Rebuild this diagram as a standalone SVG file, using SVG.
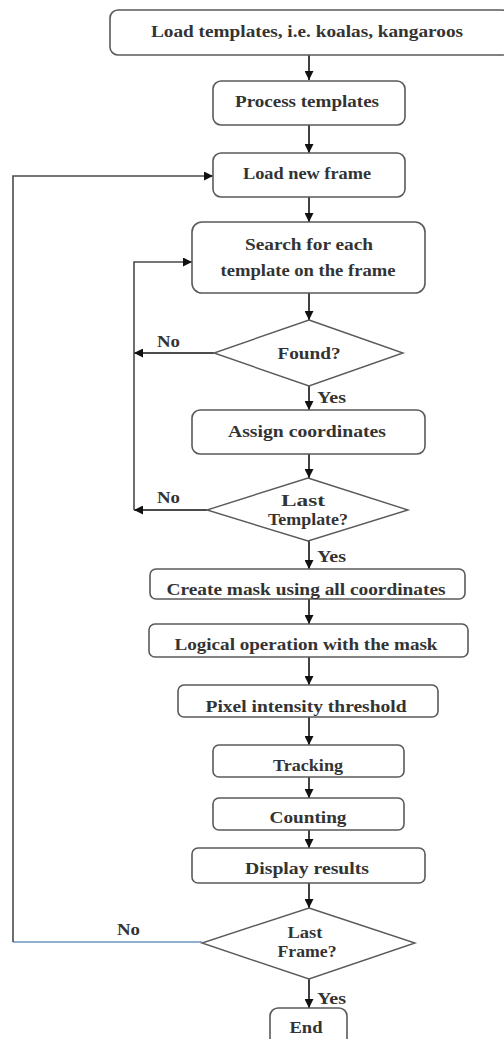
<svg xmlns="http://www.w3.org/2000/svg" width="504" height="1039" viewBox="0 0 504 1039">
<defs>
<marker id="ah" viewBox="0 0 10 10" refX="10" refY="5" markerWidth="9" markerHeight="9" markerUnits="userSpaceOnUse" orient="auto">
<path d="M0,0 L10,5 L0,10 z" fill="#111"/>
</marker>
<style>
.box{fill:#fff;stroke:#5a5a5a;stroke-width:1.6}
.dia{fill:#fff;stroke:#5a5a5a;stroke-width:1.4}
.t{font-family:"Liberation Serif","Times New Roman",serif;font-size:16px;font-weight:bold;fill:#333;text-anchor:middle}
.l{font-family:"Liberation Serif","Times New Roman",serif;font-size:16px;font-weight:bold;fill:#333}
.c{fill:none;stroke:#111;stroke-width:1.6}
.g{fill:none;stroke:#4a4a4a;stroke-width:1.6}
</style>
</defs>
<rect width="504" height="1039" fill="#fff"/>
<g id="connectors">
<line class="c" x1="309" y1="55" x2="309" y2="80" marker-end="url(#ah)"/>
<line class="c" x1="309" y1="125" x2="309" y2="153" marker-end="url(#ah)"/>
<line class="c" x1="309" y1="197" x2="309" y2="222" marker-end="url(#ah)"/>
<line class="c" x1="309" y1="293" x2="309" y2="320" marker-end="url(#ah)"/>
<line class="c" x1="309" y1="386" x2="309" y2="410" marker-end="url(#ah)"/>
<line class="c" x1="309" y1="454" x2="309" y2="478" marker-end="url(#ah)"/>
<line class="c" x1="309" y1="541" x2="309" y2="569" marker-end="url(#ah)"/>
<line class="c" x1="309" y1="599" x2="309" y2="624" marker-end="url(#ah)"/>
<line class="c" x1="309" y1="657" x2="309" y2="685" marker-end="url(#ah)"/>
<line class="c" x1="309" y1="717" x2="309" y2="745" marker-end="url(#ah)"/>
<line class="c" x1="309" y1="777" x2="309" y2="798" marker-end="url(#ah)"/>
<line class="c" x1="309" y1="830" x2="309" y2="848" marker-end="url(#ah)"/>
<line class="c" x1="309" y1="883" x2="309" y2="908" marker-end="url(#ah)"/>
<line class="c" x1="309" y1="979" x2="309" y2="1008" marker-end="url(#ah)"/>
<line class="c" x1="214" y1="353" x2="134" y2="353" marker-end="url(#ah)"/>
<line class="c" x1="207" y1="510" x2="134" y2="510" marker-end="url(#ah)"/>
<polyline class="g" points="134,510 134,262 192,262" marker-end="url(#ah)"/>
<line x1="202" y1="942" x2="13" y2="942" stroke="#6b93bd" stroke-width="1.4"/>
<polyline class="g" points="13,942 13,176 213,176" marker-end="url(#ah)"/>
<text class="l" x="157" y="347" textLength="23" lengthAdjust="spacingAndGlyphs">No</text>
<text class="l" x="157" y="503" textLength="23" lengthAdjust="spacingAndGlyphs">No</text>
<text class="l" x="117" y="935" textLength="23" lengthAdjust="spacingAndGlyphs">No</text>
<text class="l" x="317" y="403" textLength="29" lengthAdjust="spacingAndGlyphs">Yes</text>
<text class="l" x="317" y="562" textLength="29" lengthAdjust="spacingAndGlyphs">Yes</text>
<text class="l" x="317" y="1004" textLength="29" lengthAdjust="spacingAndGlyphs">Yes</text>
</g>
<g id="n1"><rect class="box" x="110" y="10" width="400" height="45" rx="8"/><text class="t" x="307" y="37" textLength="312" lengthAdjust="spacingAndGlyphs">Load templates, i.e. koalas, kangaroos</text></g>
<g id="n2"><rect class="box" x="213" y="81" width="192" height="44" rx="8"/><text class="t" x="307" y="107" textLength="144" lengthAdjust="spacingAndGlyphs">Process templates</text></g>
<g id="n3"><rect class="box" x="213" y="153" width="192" height="44" rx="8"/><text class="t" x="307" y="179" textLength="128" lengthAdjust="spacingAndGlyphs">Load new frame</text></g>
<g id="n4"><rect class="box" x="192" y="222" width="233" height="71" rx="10"/><text class="t" x="309" y="250" textLength="128" lengthAdjust="spacingAndGlyphs">Search for each</text><text class="t" x="308" y="276" textLength="175" lengthAdjust="spacingAndGlyphs">template on the frame</text></g>
<g id="n5"><polygon class="dia" points="309,320 403,353 309,386 214,353"/><text class="t" x="309" y="359" textLength="63" lengthAdjust="spacingAndGlyphs">Found?</text></g>
<g id="n6"><rect class="box" x="192" y="410" width="233" height="44" rx="8"/><text class="t" x="307" y="437" textLength="158" lengthAdjust="spacingAndGlyphs">Assign coordinates</text></g>
<g id="n7"><polygon class="dia" points="308,478 408,510 308,541 207,510"/><text class="t" x="303" y="506" textLength="44" lengthAdjust="spacingAndGlyphs">Last</text><text class="t" x="308" y="525" textLength="80" lengthAdjust="spacingAndGlyphs">Template?</text></g>
<g id="n8"><rect class="box" x="150" y="569" width="315" height="30" rx="6"/><text class="t" x="306" y="595" textLength="279" lengthAdjust="spacingAndGlyphs">Create mask using all coordinates</text></g>
<g id="n9"><rect class="box" x="149" y="624" width="319" height="33" rx="6"/><text class="t" x="306" y="650" textLength="263" lengthAdjust="spacingAndGlyphs">Logical operation with the mask</text></g>
<g id="n10"><rect class="box" x="178" y="685" width="260" height="32" rx="6"/><text class="t" x="306" y="712" textLength="201" lengthAdjust="spacingAndGlyphs">Pixel intensity threshold</text></g>
<g id="n11"><rect class="box" x="213" y="745" width="191" height="32" rx="6"/><text class="t" x="308" y="771" textLength="70" lengthAdjust="spacingAndGlyphs">Tracking</text></g>
<g id="n12"><rect class="box" x="213" y="798" width="191" height="32" rx="6"/><text class="t" x="308" y="823" textLength="77" lengthAdjust="spacingAndGlyphs">Counting</text></g>
<g id="n13"><rect class="box" x="192" y="848" width="233" height="35" rx="6"/><text class="t" x="307" y="874" textLength="124" lengthAdjust="spacingAndGlyphs">Display results</text></g>
<g id="n14"><polygon class="dia" points="309,908 415,943 309,979 202,943"/><text class="t" x="305" y="938" textLength="35" lengthAdjust="spacingAndGlyphs">Last</text><text class="t" x="307" y="957" textLength="59" lengthAdjust="spacingAndGlyphs">Frame?</text></g>
<g id="n15"><rect class="box" x="270" y="1008" width="77" height="40" rx="8"/><text class="t" x="306" y="1033" textLength="33" lengthAdjust="spacingAndGlyphs">End</text></g>
</svg>
